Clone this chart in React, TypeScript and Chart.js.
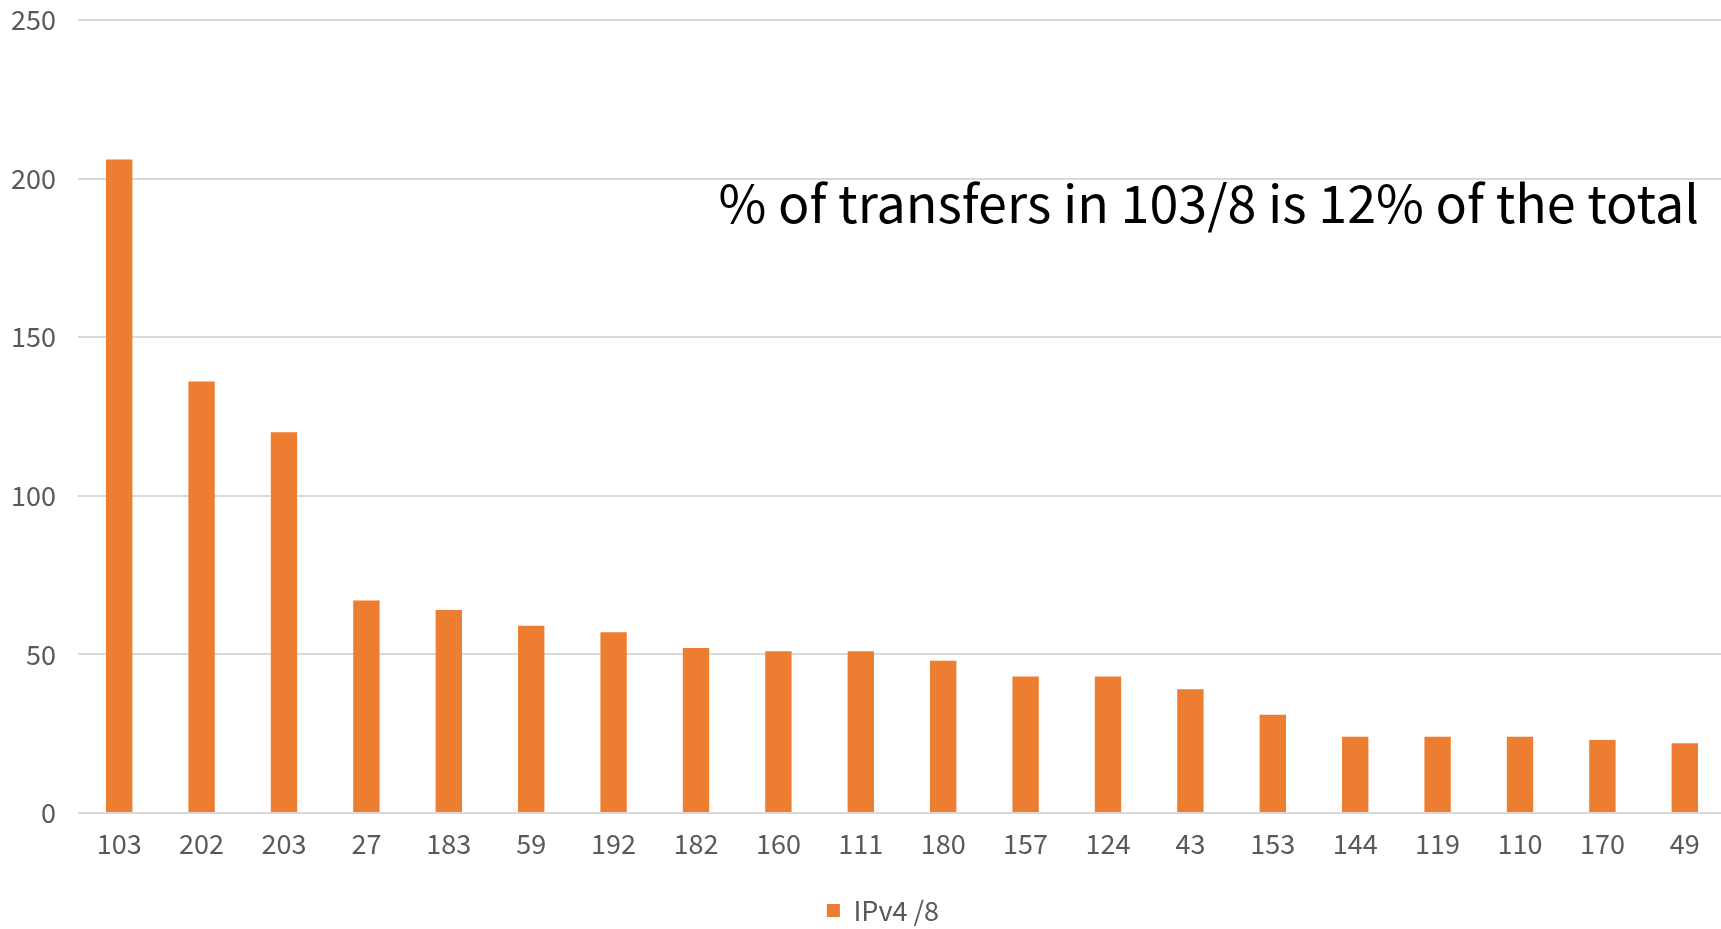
import React, { useEffect, useRef } from "react";
import { Chart, registerables } from "chart.js";

Chart.register(...registerables);

const categories = ["103", "202", "203", "27", "183", "59", "192", "182", "160", "111", "180", "157", "124", "43", "153", "144", "119", "110", "170", "49"];
const seriesValues = [206, 136, 120, 67, 64, 59, 57, 52, 51, 51, 48, 43, 43, 39, 31, 24, 24, 24, 23, 22];
const seriesName = "IPv4 /8";
const noteText = "% of transfers in 103/8 is 12% of the total";
const yTicks = [0, 50, 100, 150, 200, 250];

const W = 1726;
const H = 929;
const labelFont = "'Noto Sans CJK JP', 'Noto Sans', sans-serif";

export default function App() {
  const ref = useRef<HTMLCanvasElement | null>(null);

  useEffect(() => {
    document.documentElement.style.overflow = "hidden";
    document.body.style.overflow = "hidden";
    const canvas = ref.current;
    if (!canvas) return;

    const notePlugin = {
      id: "note",
      afterLayout(chart: any) {
        if (chart.legend) {
          chart.legend.left += 20;
          chart.legend.right += 20;
          chart.legend.top += 5;
          chart.legend.bottom += 5;
        }
      },
      afterDraw(chart: any) {
        const ctx = chart.ctx;
        ctx.save();
        ctx.font = "52px 'Noto Sans CJK JP', 'Noto Sans', sans-serif";
        ctx.fillStyle = "#000000";
        ctx.textAlign = "right";
        ctx.textBaseline = "alphabetic";
        ctx.fillText(noteText, 1699, 223);
        ctx.restore();
      },
    };

    const chart = new Chart(canvas, {
      type: "bar",
      data: {
        labels: categories,
        datasets: [
          {
            label: seriesName,
            data: seriesValues,
            backgroundColor: "#ED7D31",
            borderWidth: 0,
            categoryPercentage: 1,
            barPercentage: 0.32,
          },
        ],
      },
      options: {
        responsive: false,
        animation: false,
        layout: { padding: { top: 20, left: 0, right: 0, bottom: 0 } },
        plugins: {
          tooltip: { enabled: false },
          title: { display: false },
          legend: {
            display: true,
            position: "bottom",
            labels: {
              boxWidth: 13,
              boxHeight: 13,
              padding: 0,
              color: "#595959",
              font: { family: labelFont, size: 27 },
            },
          },
        },
        scales: {
          x: {
            grid: { display: false, drawTicks: false },
            border: { display: false },
            ticks: {
              color: "#595959",
              font: { family: labelFont, size: 27 },
              padding: 15,
              maxRotation: 0,
              autoSkip: false,
            },
            afterFit(scale: any) {
              scale.height = 79;
            },
          },
          y: {
            min: 0,
            max: 250,
            afterBuildTicks(scale: any) {
              scale.ticks = yTicks.map((v) => ({ value: v }));
            },
            grid: {
              color: "#D9D9D9",
              lineWidth: 2,
              drawTicks: true,
              tickLength: 22,
              tickColor: "rgba(0,0,0,0)",
            },
            border: { display: false },
            ticks: {
              color: "#595959",
              font: { family: labelFont, size: 27 },
              padding: 0,
            },
            afterFit(scale: any) {
              scale.width = 78;
            },
          },
        },
      },
      plugins: [notePlugin],
    });

    return () => {
      chart.destroy();
    };
  }, []);

  return (
    <div style={{ position: "fixed", left: 0, top: 0, width: W, height: H, background: "#fff" }}>
      <canvas ref={ref} width={W} height={H} style={{ width: W, height: H, display: "block" }} />
    </div>
  );
}
